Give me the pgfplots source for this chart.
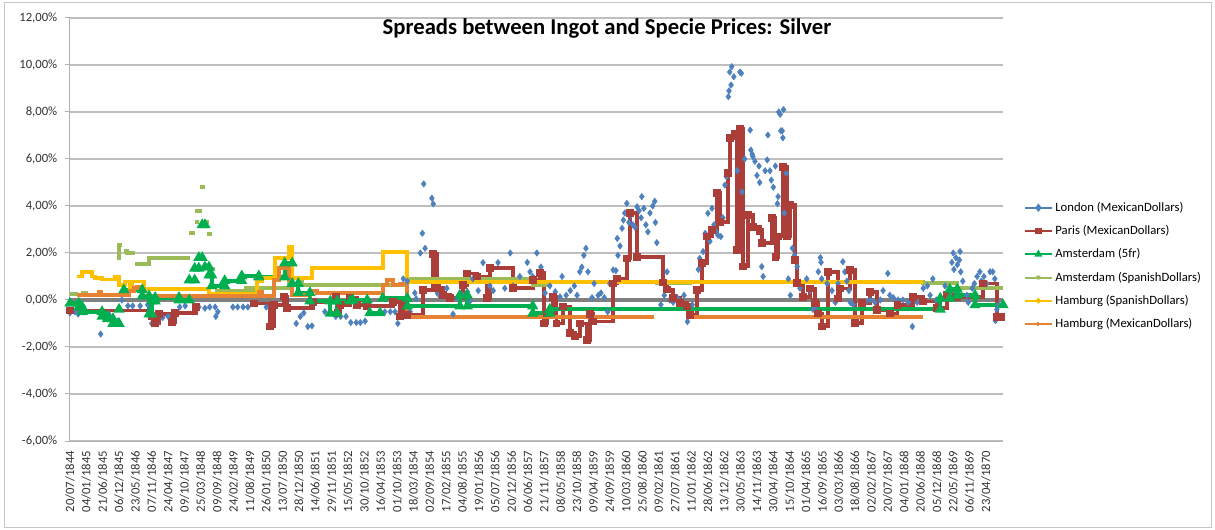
\documentclass[border=0pt]{standalone}
\usepackage{pgfplots}
\pgfplotsset{compat=1.18}
\usepackage{fontspec}
\setmainfont{Carlito}
\definecolor{londonblue}{RGB}{79,129,189}
\definecolor{parisred}{RGB}{172,62,58}
\definecolor{amsgreen}{RGB}{0,176,80}
\definecolor{amslight}{RGB}{155,187,89}
\definecolor{hamyellow}{RGB}{255,192,0}
\definecolor{hamorange}{RGB}{230,130,50}
\begin{document}
\begin{tikzpicture}
\useasboundingbox (0,0) rectangle (911.25pt,396.75pt);
\draw[gray!45, line width=0.75pt] (3pt,1.5pt) rectangle (908.5pt,395pt);
\begin{axis}[
  at={(52.5pt,66pt)}, anchor=south west,
  scale only axis, width=699.75pt, height=317.25pt,
  xmin=0, xmax=1369, ymin=-6, ymax=12,
  axis lines*=left,
  axis line style={gray!60, line width=0.75pt},
  unbounded coords=jump,
  ytick={-6,-4,...,12},
  yticklabels={{-6,00\%},{-4,00\%},{-2,00\%},{0,00\%},{2,00\%},{4,00\%},{6,00\%},{8,00\%},{10,00\%},{12,00\%}},
  xtick={0,24,...,1344},
  xticklabels={20/07/1844,04/01/1845,21/06/1845,06/12/1845,23/05/1846,07/11/1846,24/04/1847,09/10/1847,25/03/1848,09/09/1848,24/02/1849,11/08/1849,26/01/1850,13/07/1850,28/12/1850,14/06/1851,29/11/1851,15/05/1852,30/10/1852,16/04/1853,01/10/1853,18/03/1854,02/09/1854,17/02/1855,04/08/1855,19/01/1856,05/07/1856,20/12/1856,06/06/1857,21/11/1857,08/05/1858,23/10/1858,09/04/1859,24/09/1859,10/03/1860,25/08/1860,09/02/1861,27/07/1861,11/01/1862,28/06/1862,13/12/1862,30/05/1863,14/11/1863,30/04/1864,15/10/1864,01/04/1865,16/09/1865,03/03/1866,18/08/1866,02/02/1867,20/07/1867,04/01/1868,20/06/1868,05/12/1868,22/05/1869,06/11/1869,23/04/1870},
  xticklabel style={rotate=90, anchor=east, font=\fontsize{9.5}{11}\selectfont, text=black!80},
  yticklabel style={font=\fontsize{9.5}{11}\selectfont, text=black!80, xshift=-2pt},
  /pgf/number format/assume math mode=true,
  xtick style={draw=none},
  ytick style={gray!60, line width=0.75pt},
  tick align=outside, major tick length=4pt,
  ymajorgrids, grid style={gray!50, line width=0.9pt},
  clip=false,
  legend style={draw=none, fill=none, at={(1.018,0.414)}, anchor=west,
    font=\fontsize{9.5}{11}\selectfont, row sep=5pt, cells={anchor=west}},
  legend image code/.code={\draw[mark repeat=2,mark phase=2,#1] plot coordinates {(0pt,0pt)(10pt,0pt)(20pt,0pt)};},
]
% zero line
\addplot[gray, line width=3pt, forget plot] coordinates {(0,0)(1369,0)};
% London (MexicanDollars)
\addplot[only marks, mark=diamond*, mark size=2.4pt, color=londonblue, forget plot] table {
x y
0 -0.55
3 -0.45
7 -0.5
12 -0.6
20 -0.3
45 -1.45
57 -0.6
63 -0.75
70 -0.9
76 0.0
85 -0.25
92 -0.25
103 -0.25
114 -0.2
120 -1.0
128 -1.0
136 -0.75
144 -0.7
161 -0.3
169 -0.25
189 -0.3
198 -0.35
205 -0.3
213 -0.3
214 -0.7
217 -0.5
239 -0.3
246 -0.3
254 -0.3
261 -0.3
288 -0.3
332 -1.0
338 -0.7
343 -0.55
349 -1.13
355 -1.1
374 -0.5
390 -0.7
397 -0.7
405 -0.7
412 -0.96
420 -0.96
426 -0.96
433 -0.9
462 -0.5
470 -0.5
477 -0.5
481 -1.0
489 0.9
495 0.8
499 -0.5
506 0.3
508 0.05
514 2.0
517 2.84
519 4.94
521 2.2
531 4.33
533 4.09
539 0.3
543 0.15
553 0.5
562 -0.6
568 0.1
577 0.2
583 0.35
587 -0.05
591 0.9
599 0.4
606 1.59
616 0.6
621 0.4
628 1.59
638 0.5
646 2.0
650 0.6
660 1.0
671 1.6
675 1.2
679 1.0
685 2.0
691 1.4
697 0.3
704 0.6
712 0.35
719 0.13
722 1.0
728 0.2
734 0.4
740 0.6
744 0.2
748 1.2
751 1.4
754 1.9
757 2.2
760 1.2
766 0.1
769 0.7
775 0.2
779 0.3
784 0.1
789 -0.5
792 0.7
797 1.28
801 1.25
803 2.62
804 1.9
807 2.3
810 3.05
812 3.4
814 3.7
817 4.11
820 3.3
823 3.6
826 3.2
829 3.1
832 3.97
835 3.8
838 3.5
839 4.4
842 3.9
845 3.2
848 2.9
851 3.7
855 4.0
858 4.2
859 3.3
861 2.44
867 -0.2
872 0.2
876 1.2
880 0.0
885 -0.1
891 0.1
897 -0.1
901 0.2
906 -0.92
913 -0.2
922 1.3
924 1.77
929 2.06
932 2.84
936 3.69
939 2.5
942 3.9
945 3.2
948 2.9
951 2.75
955 2.7
958 3.5
961 4.89
963 5.25
966 8.65
967 8.9
968 9.7
970 9.15
971 9.93
974 9.5
979 5.5
983 9.7
985 9.65
986 4.6
990 6.0
998 7.23
999 6.38
1001 6.2
1002 6.1
1005 5.9
1008 5.3
1011 5.7
1012 5.0
1015 1.42
1017 1.0
1020 5.5
1023 5.96
1024 7.02
1027 5.5
1029 5.1
1032 4.8
1035 5.7
1038 4.1
1039 4.4
1040 8.0
1042 7.9
1043 7.2
1045 7.2
1046 6.9
1047 8.1
1048 3.7
1051 5.4
1054 0.9
1057 0.2
1060 2.2
1063 1.9
1067 1.42
1071 0.5
1076 0.1
1081 0.9
1086 0.4
1090 -0.4
1093 -0.35
1098 1.2
1101 1.8
1102 1.6
1103 0.9
1111 0.7
1118 0.4
1123 -0.1
1127 0.7
1134 1.63
1137 1.2
1140 0.8
1143 0.4
1145 -0.1
1149 -0.2
1159 -0.1
1167 -0.1
1174 0.0
1181 -0.1
1189 0.0
1193 0.4
1200 1.13
1203 0.2
1208 0.1
1215 0.0
1222 0.0
1230 -0.1
1236 -1.13
1243 -0.1
1252 0.5
1258 0.6
1262 0.2
1266 0.9
1271 0.0
1277 -0.3
1284 0.6
1291 0.3
1294 1.6
1296 2.0
1297 1.3
1300 1.8
1302 1.5
1305 1.7
1306 2.06
1307 1.2
1310 0.8
1316 0.2
1318 -0.1
1324 0.5
1327 0.7
1331 1.0
1335 1.2
1337 0.8
1341 1.0
1345 0.7
1350 1.2
1354 1.2
1357 0.9
1358 -0.88
1360 -0.4
1363 -0.2
1365 -0.7
};
% Paris (MexicanDollars)
\addplot[const plot, color=parisred, line width=2.8pt, mark=square*, mark size=1.5pt, forget plot] table {
x y
0 -0.45
120 -0.7
125 -1.0
131 -0.6
150 -0.95
154 -0.55
185 -0.3
189 nan
270 -0.15
293 -1.13
299 -0.2
314 0.15
318 -0.35
357 -0.1
390 0.15
393 -0.55
396 -0.2
411 0.1
421 -0.2
436 -0.27
474 -0.1
484 -0.7
489 -0.2
495 -0.64
518 0.43
533 1.96
539 0.5
547 0.21
558 0.07
577 0.64
583 1.13
597 1.0
612 0.07
616 1.35
650 0.5
679 0.85
690 1.15
695 -1.0
700 -0.55
709 0.13
714 -1.0
723 -0.28
734 -1.4
741 -1.55
748 -1.0
759 -1.7
763 -0.6
767 -0.92
797 0.7
803 0.92
817 1.77
822 3.69
832 1.82
870 0.75
876 0.45
885 0.08
895 -0.13
905 -0.28
910 -0.64
920 0.43
927 1.56
935 2.7
942 2.98
949 4.54
954 3.33
966 5.39
968 6.88
976 7.09
979 2.13
983 7.3
987 1.42
995 3.62
1002 3.12
1012 2.91
1015 2.44
1030 3.48
1035 1.84
1039 2.7
1046 5.67
1052 2.7
1057 4.04
1064 1.7
1067 0.72
1076 0.13
1086 0.49
1093 -0.13
1098 -0.57
1103 -1.13
1112 1.2
1127 0.06
1130 0.49
1145 1.28
1152 -0.99
1162 -0.14
1174 0.35
1184 -0.41
1203 -0.57
1214 -0.21
1237 0.13
1252 -0.06
1272 -0.35
1287 0.2
1302 0.13
1340 0.7
1360 -0.71
1366 -0.71
};
% Amsterdam (5fr)
\addplot[color=amsgreen, line width=3pt, mark=triangle*, mark size=1.9pt, forget plot] table {
x y
0 -0.14
13 -0.14
13 -0.3
18 -0.3
18 -0.5
47 -0.5
47 -0.7
55 -0.7
55 -0.8
63 -0.8
63 -1.0
72 -1.0
73 nan
72 -0.4
73 nan
79 0.43
106 0.43
106 0.17
116 0.17
116 -0.6
120 -0.6
120 -0.05
125 -0.05
125 0.1
160 0.1
160 0.0
175 0.0
176 nan
175 0.85
183 0.85
184 nan
183 1.35
189 1.35
190 nan
189 1.8
194 1.8
195 nan
194 3.2
198 3.2
199 nan
198 1.4
204 1.4
205 nan
204 1.06
208 1.06
208 0.6
227 0.6
227 0.82
252 0.82
252 1.02
277 1.02
277 0.97
315 0.97
315 1.57
326 1.57
326 0.7
335 0.7
335 0.31
352 0.31
352 -0.05
382 -0.05
382 -0.57
392 -0.57
392 -0.05
411 -0.05
412 nan
415 0.0
436 0.0
437 nan
440 -0.55
455 -0.55
456 nan
459 0.07
495 0.07
495 -0.26
572 -0.26
572 0.2
583 0.2
583 -0.26
679 -0.26
679 -0.57
704 -0.57
704 -0.4
1277 -0.4
1277 0.07
1291 0.07
1291 0.45
1302 0.45
1302 0.2
1328 0.2
1328 -0.21
1369 -0.21
};
% Amsterdam (SpanishDollars)
\addplot[color=amslight, line width=3pt, forget plot] table {
x y
0 0.26
12 0.26
13 nan
16 0.3
26 0.3
27 nan
69 1.8
72 1.8
72 2.33
76 2.33
77 nan
79 2.1
84 2.1
84 2.0
95 2.0
96 nan
95 1.53
116 1.53
116 1.8
176 1.8
177 nan
175 2.84
183 2.84
184 nan
183 3.3
189 3.3
190 nan
183 3.8
194 3.8
195 nan
191 4.82
198 4.82
199 nan
197 3.3
204 3.3
205 nan
201 2.8
208 2.8
209 nan
205 1.3
213 1.3
214 nan
213 0.4
274 0.4
275 nan
255 0.5
321 0.5
321 0.94
340 0.94
340 0.64
495 0.64
495 0.89
679 0.89
679 0.64
704 0.64
704 0.78
861 0.78
861 0.72
910 0.72
910 0.78
1252 0.78
1252 0.72
1302 0.72
1302 0.51
1369 0.51
};
% Hamburg (SpanishDollars)
\addplot[const plot, color=hamyellow, line width=2.9pt, forget plot] table {
x y
10 1.0
18 1.2
32 1.0
37 0.94
47 0.87
66 0.97
72 0.64
81 0.79
88 0.57
91 0.79
109 0.45
204 0.25
274 0.79
282 0.94
301 1.79
321 2.27
326 0.94
355 1.36
459 2.05
495 0.78
1252 0.78
};
% Hamburg (MexicanDollars)
\addplot[const plot, color=hamorange, line width=3pt, forget plot] table {
x y
10 0.2
43 0.35
46 0.2
87 0.38
94 0.5
98 0.57
106 0.17
277 0.35
282 0.17
299 0.85
307 1.35
321 0.85
326 0.2
352 0.38
362 0.31
459 0.64
465 0.85
474 0.64
484 0.7
495 -0.72
857 -0.72
858 nan
910 -0.72
1252 -0.72
};
\addlegendimage{londonblue, line width=1.5pt, mark=diamond*, mark size=2pt}
\addlegendentry{London (MexicanDollars)}
\addlegendimage{parisred, line width=1.5pt, mark=square*, mark size=1.6pt}
\addlegendentry{Paris (MexicanDollars)}
\addlegendimage{amsgreen, line width=1.5pt, mark=triangle*, mark size=2pt}
\addlegendentry{Amsterdam (5fr)}
\addlegendimage{amslight, line width=1.5pt, mark=x, mark size=1.6pt}
\addlegendentry{Amsterdam (SpanishDollars)}
\addlegendimage{hamyellow, line width=1.5pt, mark=*, mark size=1.2pt}
\addlegendentry{Hamburg (SpanishDollars)}
\addlegendimage{hamorange, line width=1.5pt, mark=+, mark size=1.8pt}
\addlegendentry{Hamburg (MexicanDollars)}
\end{axis}
\node[font=\fontsize{17}{20}\selectfont\bfseries] at (455.25pt,375.75pt) {Spreads between Ingot and Specie Prices: Silver};
\end{tikzpicture}
\end{document}
